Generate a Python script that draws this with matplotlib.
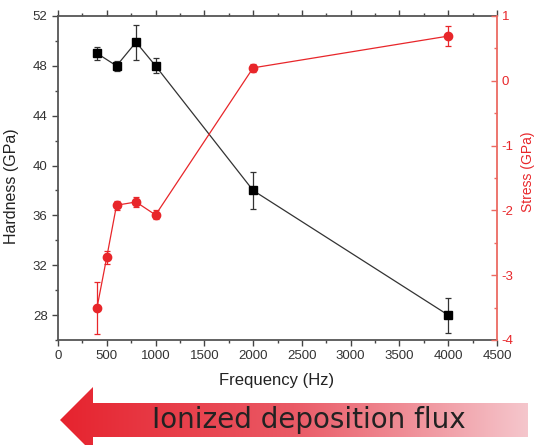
import numpy as np
import matplotlib
matplotlib.use("Agg")
import matplotlib.pyplot as plt
from matplotlib.patches import Polygon
from matplotlib.ticker import MultipleLocator
from matplotlib.colors import LinearSegmentedColormap

plt.rcParams['font.family'] = ['Liberation Sans', 'DejaVu Sans']
plt.rcParams['axes.unicode_minus'] = False

freq_h = [400, 600, 800, 1000, 2000, 4000]
hardness = [49.0, 48.0, 49.9, 48.0, 38.0, 28.0]
hardness_err = [0.5, 0.4, 1.4, 0.6, 1.5, 1.4]

freq_s = [400, 500, 600, 800, 1000, 2000, 4000]
stress = [-3.5, -2.72, -1.92, -1.87, -2.07, 0.2, 0.69]
stress_err = [0.4, 0.1, 0.07, 0.07, 0.07, 0.06, 0.15]

x_ticks = [0, 500, 1000, 1500, 2000, 2500, 3000, 3500, 4000, 4500]
h_ticks = [28, 32, 36, 40, 44, 48, 52]
s_ticks = [-4, -3, -2, -1, 0, 1]

W, H = 539, 445
fig = plt.figure(figsize=(W / 100, H / 100), dpi=100)
ax = fig.add_axes([58 / W, 1 - 340 / H, (497 - 58) / W, (340 - 16) / H])

spine_c = '#555555'
red = '#e8262a'
red_axis = '#ec6a62'

ax.errorbar(freq_h, hardness, yerr=hardness_err, color='#333333', lw=0.9,
            marker='s', ms=6, mfc='black', mec='black', ecolor='#333333',
            elinewidth=0.9, capsize=2.5, capthick=0.9, zorder=3)
ax.set_xlim(0, 4500)
ax.set_ylim(26, 52)
ax.set_xticks(x_ticks)
ax.set_yticks(h_ticks)
ax.xaxis.set_minor_locator(MultipleLocator(250))
ax.yaxis.set_minor_locator(MultipleLocator(2))
ax.tick_params(axis='x', which='both', direction='out', top=True, labeltop=False,
               colors='#444444', labelsize=9.5, labelcolor='#333333')
ax.tick_params(axis='x', which='major', length=4, width=1)
ax.tick_params(axis='x', which='minor', length=2.5, width=1)
ax.tick_params(axis='y', which='both', direction='out', colors='#444444',
               labelsize=9.5, labelcolor='#333333')
ax.tick_params(axis='y', which='major', length=4, width=1)
ax.tick_params(axis='y', which='minor', length=2.5, width=1)
for s in ['left', 'bottom', 'top']:
    ax.spines[s].set_color(spine_c)
    ax.spines[s].set_linewidth(1.3)
ax.spines['right'].set_visible(False)
ax.set_xlabel('Frequency (Hz)', fontsize=12, color='#222222')
ax.set_ylabel('Hardness (GPa)', fontsize=11.5, color='#222222')
ax.xaxis.set_label_coords(0.499, -0.1235)
ax.xaxis.label.set_va('center')
ax.yaxis.set_label_coords(-0.105, 0.475)
ax.yaxis.label.set_va('center')

ax2 = ax.twinx()
ax2.errorbar(freq_s, stress, yerr=stress_err, color=red, lw=0.9,
             marker='o', ms=6, mfc=red, mec=red, ecolor=red,
             elinewidth=0.9, capsize=2.5, capthick=0.9, zorder=3)
ax2.set_ylim(-4, 1)
ax2.set_yticks(s_ticks)
ax2.yaxis.set_minor_locator(MultipleLocator(0.5))
ax2.tick_params(axis='y', which='both', direction='in', colors=red_axis,
                labelsize=9.5, labelcolor=red)
ax2.tick_params(axis='y', which='major', length=4, width=1)
ax2.tick_params(axis='y', which='minor', length=2.5, width=1)
for s in ['left', 'bottom', 'top']:
    ax2.spines[s].set_visible(False)
ax2.spines['right'].set_color(red_axis)
ax2.spines['right'].set_linewidth(1.3)
ax2.set_ylabel('Stress (GPa)', fontsize=10, color=red)
ax2.yaxis.set_label_coords(1.071, 0.519)
ax2.yaxis.label.set_va('center')

# Gradient arrow at the bottom
axa = fig.add_axes([0, 0, 1, 1], zorder=-1)
axa.set_xlim(0, W)
axa.set_ylim(H, 0)
axa.axis('off')
grad = np.linspace(0, 1, 256)[None, :]
cmap = LinearSegmentedColormap.from_list('g', ['#e6232e', '#ea5a66', '#f5c6cc'])
im = axa.imshow(grad, extent=[60, 528, 452, 386], cmap=cmap, aspect='auto',
                interpolation='bilinear')
poly = Polygon([[60, 420], [93, 387], [93, 403], [528, 403], [528, 437],
                [93, 437], [93, 453]], closed=True, transform=axa.transData,
               facecolor='none', edgecolor='none')
axa.add_patch(poly)
im.set_clip_path(poly)
axa.text(152, 420, 'Ionized deposition flux', fontsize=20, color='#222222',
         ha='left', va='center', family=['DejaVu Sans'])

fig.savefig('out.png', dpi=100)
